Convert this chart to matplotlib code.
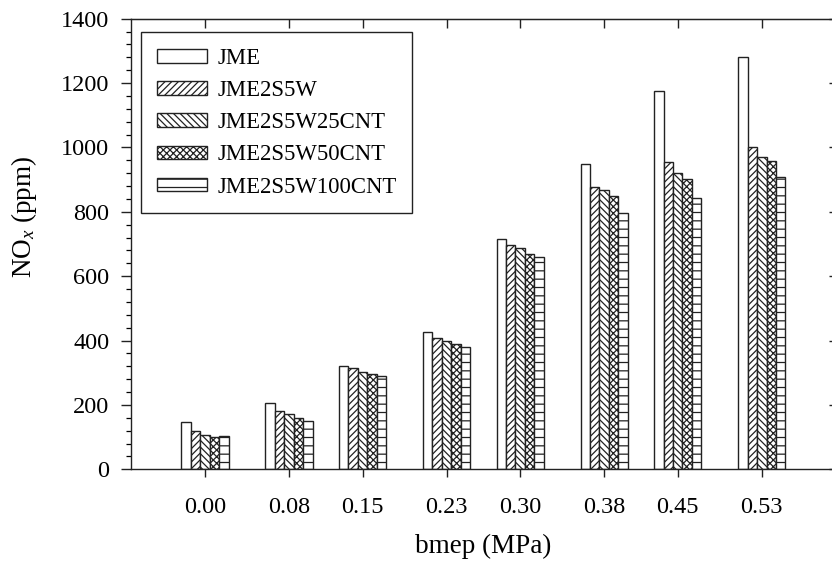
import matplotlib
matplotlib.use("Agg")
import matplotlib.pyplot as plt
import numpy as np

plt.rcParams['font.family'] = ['Liberation Serif', 'DejaVu Serif']
plt.rcParams['mathtext.fontset'] = 'custom'
plt.rcParams['mathtext.rm'] = 'Liberation Serif'
plt.rcParams['mathtext.it'] = 'Liberation Serif:italic'
plt.rcParams['hatch.linewidth'] = 0.9

# bmep (MPa) y NOx (ppm) por combustible
bmep = [0.00, 0.08, 0.15, 0.23, 0.30, 0.38, 0.45, 0.53]
bmep_labels = ['0.00', '0.08', '0.15', '0.23', '0.30', '0.38', '0.45', '0.53']
nombres = ['JME', 'JME2S5W', 'JME2S5W25CNT', 'JME2S5W50CNT', 'JME2S5W100CNT']
nox_jme = [146, 207, 321, 427, 715, 948, 1175, 1280]
nox_2s5w = [119, 182, 316, 409, 697, 876, 954, 1000]
nox_25cnt = [106, 171, 301, 399, 686, 868, 919, 971]
nox_50cnt = [100, 159, 295, 388, 669, 849, 901, 958]
nox_100cnt = [105, 149, 291, 379, 659, 797, 844, 909]

series = [nox_jme, nox_2s5w, nox_25cnt, nox_50cnt, nox_100cnt]
tramas = ['', '/////', '\\\\\\\\\\', 'xxxxx', '--']

fig = plt.figure(figsize=(8.32, 5.64), dpi=100)
ax = fig.add_axes([0.158, 0.1679, 0.846, 0.799])

ancho = 0.009
x = np.array(bmep)
for i, (vals, trama, nombre) in enumerate(zip(series, tramas, nombres)):
    ax.bar(x + (i - 2) * ancho, vals, width=ancho, color='white',
           edgecolor='#222222', linewidth=1.0, hatch=trama, label=nombre)

ax.set_xlim(-0.07, 0.60)
ax.set_ylim(0, 1400)
ax.set_xticks(bmep)
ax.set_xticklabels(bmep_labels)
ax.set_yticks(np.arange(0, 1401, 200))
ax.set_yticks(np.arange(0, 1401, 40), minor=True)
ax.tick_params(axis='both', which='major', labelsize=17.5, color='#222222')
ax.tick_params(axis='x', which='major', direction='out', length=6, width=1.0, pad=14)
ax.tick_params(axis='y', which='major', direction='out', length=7, width=1.0, pad=9)
ax.tick_params(axis='y', which='minor', direction='out', length=3.5, width=0.9)
for s in ax.spines.values():
    s.set_linewidth(1.0)
    s.set_color('#222222')

arriba = ax.secondary_xaxis('top')
arriba.set_xticks(bmep)
arriba.tick_params(direction='in', length=6.5, width=1.0, labeltop=False, color='#222222')
derecha = ax.secondary_yaxis('right')
derecha.set_yticks(np.arange(0, 1401, 200))
derecha.tick_params(direction='in', length=4, width=1.0, labelright=False, color='#222222')

ax.set_xlabel('bmep (MPa)', fontsize=19.5, labelpad=11)
ax.set_ylabel('NO$_{x}$ (ppm)', fontsize=19.5)
ax.yaxis.set_label_coords(-0.131, 0.56)

leg = ax.legend(loc='upper left', bbox_to_anchor=(0.0142, 0.9696), borderaxespad=0,
                fontsize=16.4, handlelength=2.2, handleheight=0.53, handletextpad=0.45,
                labelspacing=0.49, borderpad=0.68, fancybox=False, framealpha=1)
leg.get_frame().set_edgecolor('#222222')
leg.get_frame().set_linewidth(1.0)

fig.savefig('out.png', dpi=100)
